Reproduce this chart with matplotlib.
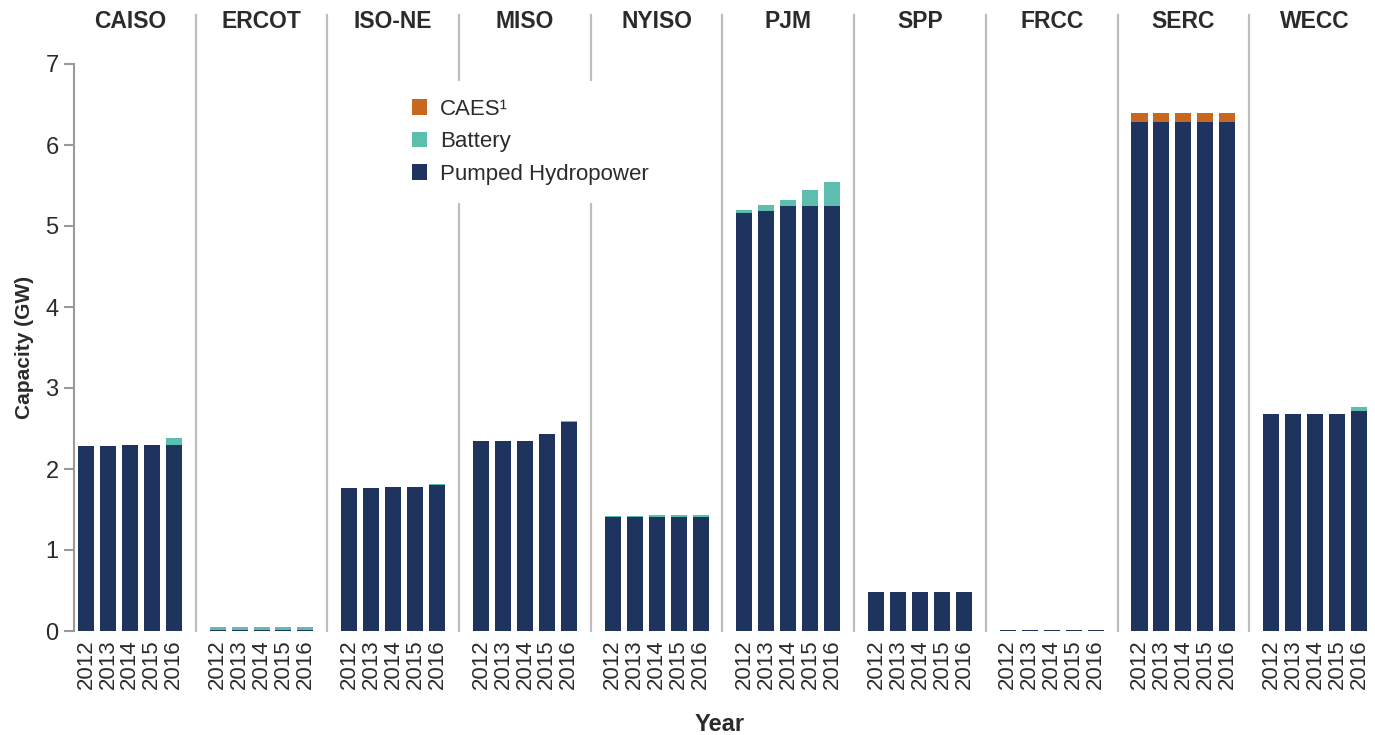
import matplotlib
matplotlib.use("Agg")
import matplotlib.pyplot as plt
import numpy as np

plt.rcParams['font.family'] = ['Liberation Sans', 'DejaVu Sans']

# capacity (GW) per region, years 2012-2016
regions = ['CAISO', 'ERCOT', 'ISO-NE', 'MISO', 'NYISO', 'PJM', 'SPP', 'FRCC', 'SERC', 'WECC']
years = ['2012', '2013', '2014', '2015', '2016']

pumped = [
    [2.28, 2.28, 2.30, 2.30, 2.30],
    [0.01, 0.01, 0.01, 0.01, 0.01],
    [1.76, 1.76, 1.78, 1.78, 1.80],
    [2.35, 2.35, 2.35, 2.43, 2.58],
    [1.41, 1.41, 1.41, 1.41, 1.41],
    [5.165, 5.185, 5.247, 5.247, 5.247],
    [0.48, 0.48, 0.48, 0.48, 0.48],
    [0.01, 0.01, 0.01, 0.01, 0.01],
    [6.284, 6.284, 6.284, 6.284, 6.284],
    [2.68, 2.68, 2.68, 2.68, 2.716],
]
battery = [
    [0.0, 0.01, 0.0, 0.0, 0.087],
    [0.035, 0.035, 0.035, 0.045, 0.045],
    [0.0, 0.0, 0.0, 0.0, 0.015],
    [0.0, 0.0, 0.0, 0.005, 0.01],
    [0.012, 0.012, 0.02, 0.02, 0.02],
    [0.033, 0.075, 0.074, 0.195, 0.296],
    [0.0, 0.0, 0.0, 0.0, 0.0],
    [0.0, 0.0, 0.0, 0.0, 0.0],
    [0.0, 0.0, 0.0, 0.0, 0.0],
    [0.0, 0.0, 0.0, 0.0, 0.049],
]
caes = [
    [0, 0, 0, 0, 0],
    [0, 0, 0, 0, 0],
    [0, 0, 0, 0, 0],
    [0, 0, 0, 0, 0],
    [0, 0, 0, 0, 0],
    [0, 0, 0, 0, 0],
    [0, 0, 0, 0, 0],
    [0, 0, 0, 0, 0],
    [0.111, 0.111, 0.111, 0.111, 0.111],
    [0, 0, 0, 0, 0],
]

c_pump = '#1e345e'
c_batt = '#5dbeb0'
c_caes = '#c86820'
txt = '#2b2b2b'

fig = plt.figure(figsize=(13.75, 7.35), dpi=100)
ax = fig.add_axes([64/1375, 104/735, 1 - 64/1375, 567/735])

xs = []
labels = []
for g, reg in enumerate(regions):
    x = np.arange(5) + g * 6
    p = np.array(pumped[g])
    b = np.array(battery[g])
    c = np.array(caes[g])
    ax.bar(x, p, width=0.73, color=c_pump, label='Pumped Hydropower' if g == 0 else None)
    ax.bar(x, b, width=0.73, bottom=p, color=c_batt, label='Battery' if g == 0 else None)
    ax.bar(x, c, width=0.73, bottom=p + b, color=c_caes, label='CAES¹' if g == 0 else None)
    xs.extend(x)
    labels.extend(years)
    ax.text(g * 6 + 2, 7.52, reg, ha='center', va='center', fontsize=16.5,
            fontweight='bold', color=txt, clip_on=False)
    if g < len(regions) - 1:
        ax.plot([g * 6 + 5, g * 6 + 5], [0, 7.6], color='#bdbdbd', lw=1.6,
                clip_on=False, zorder=1)

ax.set_xlim(-1, 58.73)
ax.set_ylim(0, 7)
ax.set_xticks(xs)
ax.set_xticklabels(labels, rotation=90, fontsize=16, color=txt)
ax.tick_params(axis='x', length=0, pad=6)
ax.set_yticks(range(8))
ax.tick_params(axis='y', length=7, width=1.5, color='#999999', labelsize=17,
               labelcolor=txt, pad=4)

for s in ['top', 'right', 'bottom']:
    ax.spines[s].set_visible(False)
ax.spines['left'].set_position(('data', -0.55))
ax.spines['left'].set_color('#999999')
ax.spines['left'].set_linewidth(1.5)

ax.set_ylabel('Capacity (GW)', fontsize=15, fontweight='bold', color=txt, labelpad=8)
ax.set_xlabel('Year', fontsize=17, fontweight='bold', color=txt, labelpad=17)

h, l = ax.get_legend_handles_labels()
leg = ax.legend(h[::-1], l[::-1], loc='upper left', bbox_to_anchor=(383/1375, 1 - 70/735),
                bbox_transform=fig.transFigure, fontsize=16, frameon=True,
                facecolor='white', edgecolor='none', framealpha=1, fancybox=False,
                handlelength=0.7, handleheight=0.7, handletextpad=0.55,
                labelspacing=0.52, borderpad=0.8)
for t in leg.get_texts():
    t.set_color(txt)
leg.set_zorder(10)

fig.savefig('out.png', dpi=100)
